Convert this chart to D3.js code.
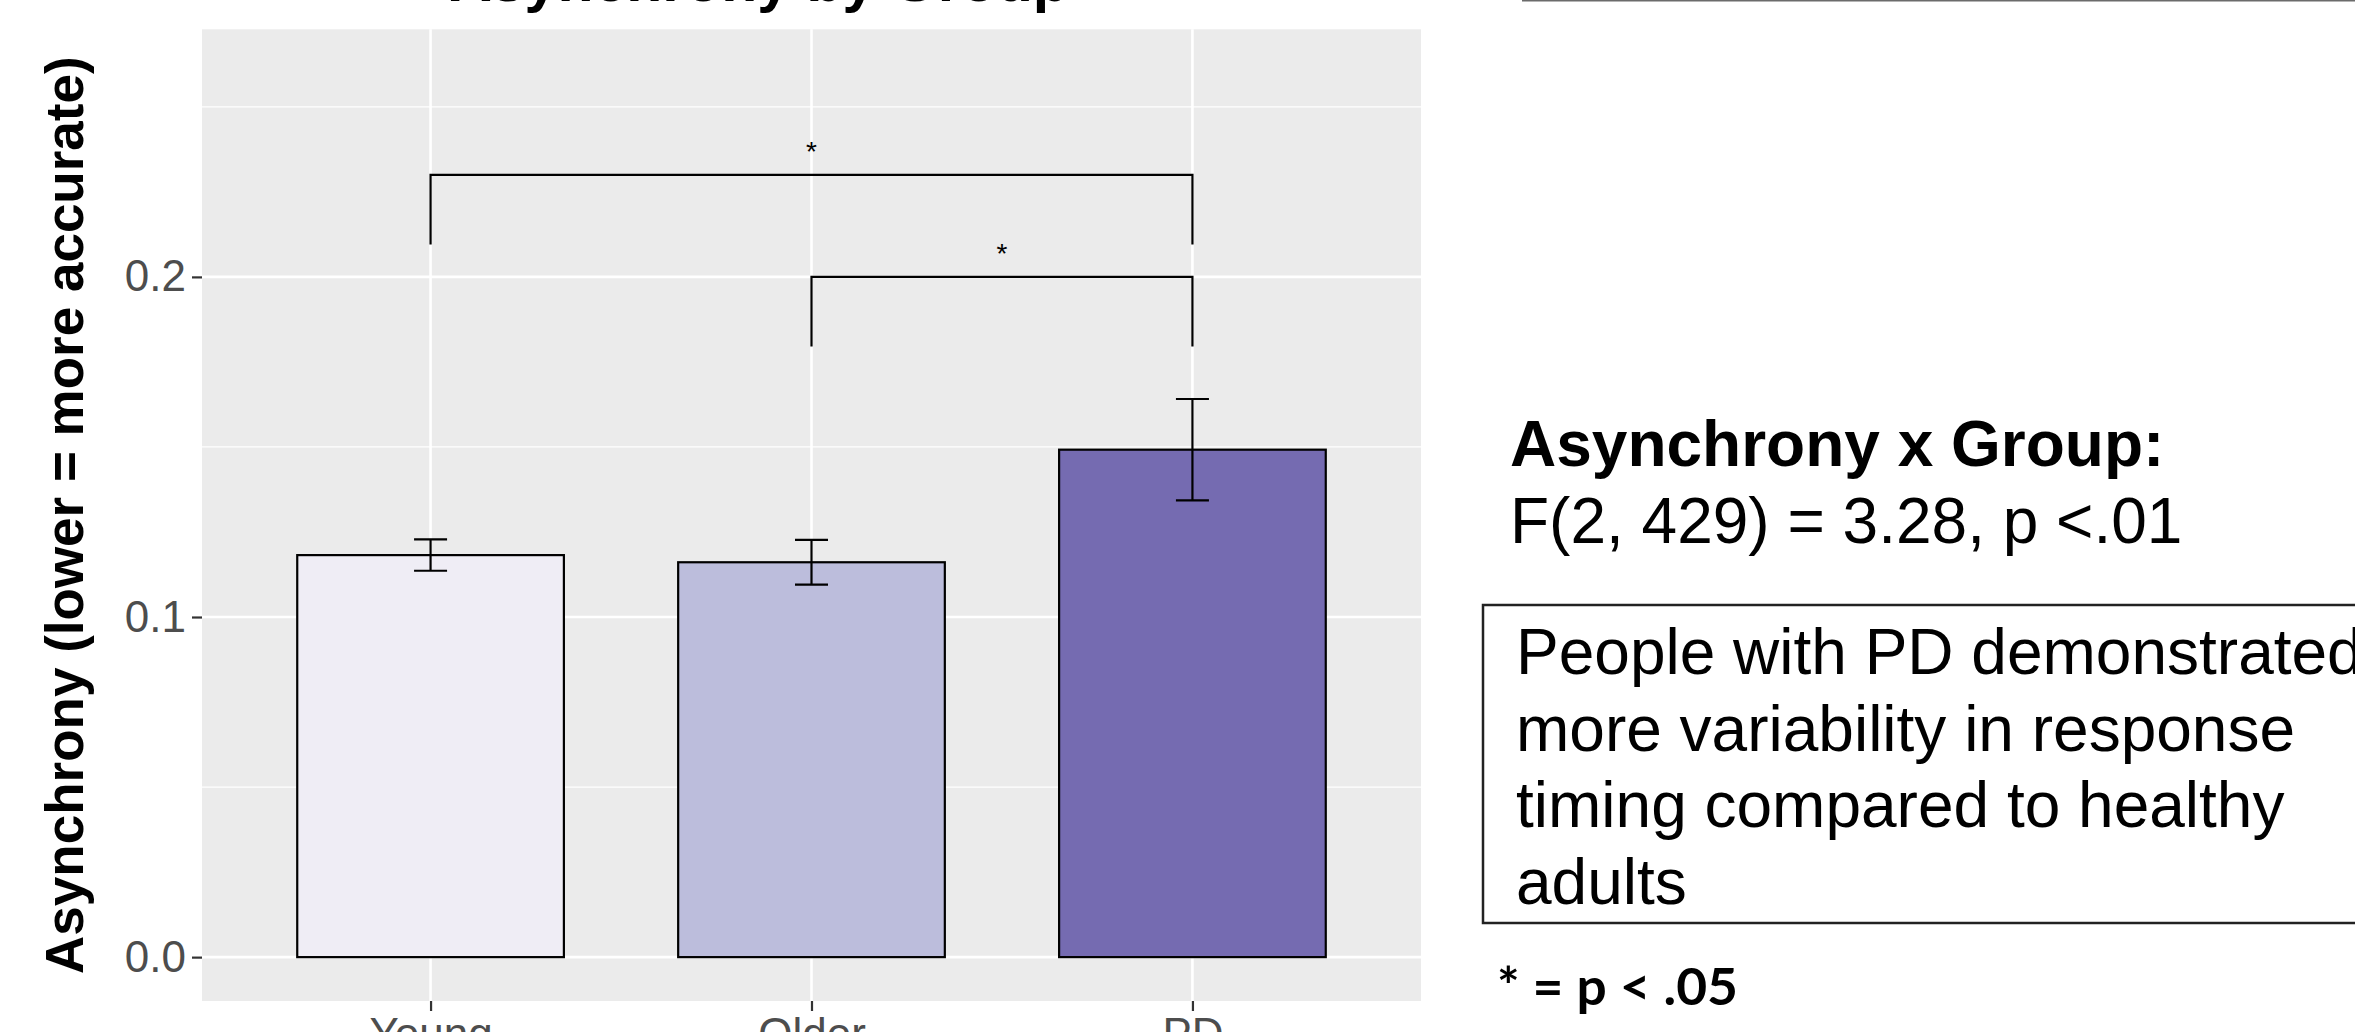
<!DOCTYPE html>
<html>
<head>
<meta charset="utf-8">
<script src="https://cdn.jsdelivr.net/npm/d3@7"></script>
<style>
html, body { margin: 0; padding: 0; background: #fff; overflow: hidden; }
text { font-family: "Liberation Sans", Arial, sans-serif; }
</style>
</head>
<body>
<svg id="chart"></svg>
<script>
// data
const groups = ["Young", "Older", "PD"]
const means = [0.1182, 0.1161, 0.1492]
const errors = [0.0046, 0.0066, 0.0149]
const fills = ["#efedf5", "#bcbddc", "#756bb1"]
const yMajor = [0, 0.1, 0.2]
const yMinor = [0.05, 0.15, 0.25]
const yTickLabels = ["0.0", "0.1", "0.2"]
const sigFrom = ["Young", "Older"]
const sigTo = ["PD", "PD"]
const sigHeight = [0.23, 0.20]
const sigLabel = ["*", "*"]
const sigTip = 0.0205

const title = "Asynchrony by Group"
const yTitle = "Asynchrony (lower = more accurate)"
const statHead = "Asynchrony x Group:"
const statLine = "F(2, 429) = 3.28, p <.01"
const noteLines = ["People with PD demonstrated", "more variability in response", "timing compared to healthy", "adults"]
const footnote = "* = p < .05"

const width = 2355, height = 1032
const panel = { left: 202, right: 1421, top: 29.3, bottom: 1001 }
const yLimits = [-0.0129, 0.2728]

const svg = d3.select('#chart').attr('width', width).attr('height', height)

const x = d3.scalePoint().domain(groups).range([panel.left, panel.right]).padding(0.6)
const y = d3.scaleLinear().domain(yLimits).range([panel.bottom, panel.top])
const barWidth = x.step() * 0.7
const capWidth = 33

// Panel background + grid
svg.append('rect')
    .attr('x', panel.left).attr('y', panel.top)
    .attr('width', panel.right - panel.left).attr('height', panel.bottom - panel.top)
    .attr('fill', '#ebebeb')

svg.append('g').selectAll('line').data(yMinor).join('line')
    .attr('x1', panel.left).attr('x2', panel.right)
    .attr('y1', d => y(d)).attr('y2', d => y(d))
    .attr('stroke', '#fff').attr('stroke-width', 1.3)

svg.append('g').selectAll('line').data(yMajor).join('line')
    .attr('x1', panel.left).attr('x2', panel.right)
    .attr('y1', d => y(d)).attr('y2', d => y(d))
    .attr('stroke', '#fff').attr('stroke-width', 2.6)

svg.append('g').selectAll('line').data(groups).join('line')
    .attr('x1', d => x(d)).attr('x2', d => x(d))
    .attr('y1', panel.top).attr('y2', panel.bottom)
    .attr('stroke', '#fff').attr('stroke-width', 2.6)

// Bars
svg.append('g').selectAll('rect').data(groups).join('rect')
    .attr('x', d => x(d) - barWidth / 2)
    .attr('y', (d, i) => y(means[i]))
    .attr('width', barWidth)
    .attr('height', (d, i) => y(0) - y(means[i]))
    .attr('fill', (d, i) => fills[i])
    .attr('stroke', '#000').attr('stroke-width', 2.2)

// Error bars
const err = svg.append('g').attr('stroke', '#000').attr('stroke-width', 2.2).attr('fill', 'none')
groups.forEach((g, i) => {
    const cx = x(g), hi = y(means[i] + errors[i]), lo = y(means[i] - errors[i])
    err.append('path')
        .attr('d', `M${cx - capWidth / 2},${hi}H${cx + capWidth / 2}M${cx},${hi}V${lo}M${cx - capWidth / 2},${lo}H${cx + capWidth / 2}`)
})

// Significance brackets
const sig = svg.append('g')
sigFrom.forEach((from, i) => {
    const x1 = x(from), x2 = x(sigTo[i]), top = y(sigHeight[i]), end = y(sigHeight[i] - sigTip)
    sig.append('path')
        .attr('d', `M${x1},${end}V${top}H${x2}V${end}`)
        .attr('fill', 'none').attr('stroke', '#000').attr('stroke-width', 2.2)
    sig.append('text')
        .attr('x', (x1 + x2) / 2).attr('y', top - 14)
        .attr('text-anchor', 'middle').attr('font-size', 28)
        .text(sigLabel[i])
})

// Axes
const yAxis = svg.append('g').attr('transform', `translate(${panel.left},0)`)
    .call(d3.axisLeft(y).tickValues(yMajor).tickFormat((d, i) => yTickLabels[i]).tickSize(10).tickPadding(6))
const xAxis = svg.append('g').attr('transform', `translate(0,${panel.bottom})`)
    .call(d3.axisBottom(x).tickSize(10).tickPadding(7))

for (const ax of [yAxis, xAxis]) {
    ax.select('.domain').remove()
    ax.selectAll('.tick line').attr('stroke', '#333').attr('stroke-width', 2.2)
    ax.selectAll('.tick text').attr('fill', '#4d4d4d').attr('font-size', 44)
        .attr('font-family', '"Liberation Sans", Arial, sans-serif')
}

// Titles
svg.append('text')
    .attr('x', 759).attr('y', 0.5)
    .attr('text-anchor', 'middle').attr('font-size', 59).attr('font-weight', 'bold')
    .text(title)

svg.append('text')
    .attr('transform', `translate(83,${(panel.top + panel.bottom) / 2}) rotate(-90)`)
    .attr('text-anchor', 'middle').attr('font-size', 53).attr('font-weight', 'bold')
    .text(yTitle)

// Right-hand annotations
svg.append('line')
    .attr('x1', 1522).attr('x2', width).attr('y1', 0.5).attr('y2', 0.5)
    .attr('stroke', '#6b6b6b').attr('stroke-width', 2)

svg.append('text').attr('x', 1510).attr('y', 466)
    .attr('font-size', 64).attr('font-weight', 'bold').text(statHead)
svg.append('text').attr('x', 1510).attr('y', 543)
    .attr('font-size', 64).text(statLine)

svg.append('rect')
    .attr('x', 1483).attr('y', 605).attr('width', 1000).attr('height', 318)
    .attr('fill', 'none').attr('stroke', '#222').attr('stroke-width', 2.5)

svg.append('g').selectAll('text').data(noteLines).join('text')
    .attr('x', 1516).attr('y', (d, i) => 674 + i * 76.7)
    .attr('font-size', 64)
    .text(d => d)

svg.append('text').attr('x', 1497).attr('y', 1005)
    .style('font-family', 'Lato, "Open Sans", sans-serif')
    .attr('font-size', 52).attr('font-weight', 'bold')
    .attr('textLength', 241).attr('lengthAdjust', 'spacingAndGlyphs')
    .text(footnote)
</script>
</body>
</html>
